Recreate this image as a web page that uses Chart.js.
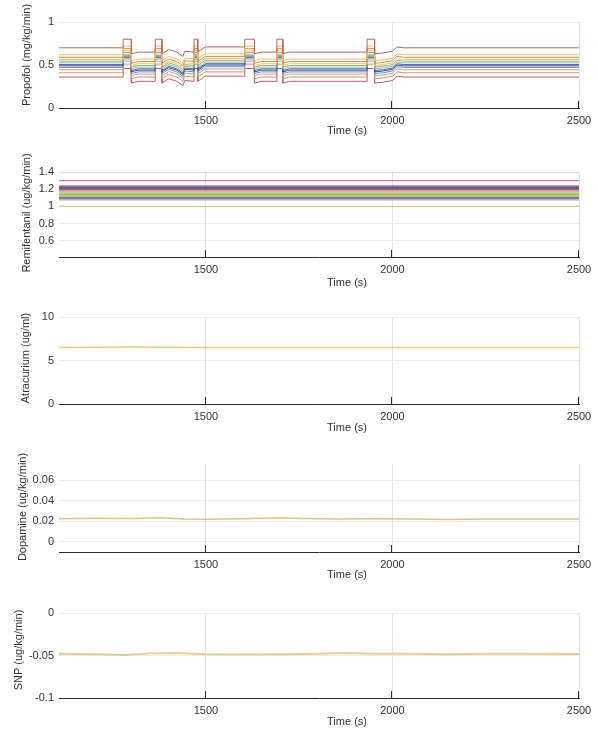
<!DOCTYPE html>
<html lang="en">
  <head>
    <meta charset="UTF-8" />
    <title>Drug infusion rates</title>
    <style>
      html, body { margin: 0; padding: 0; background: #fff; }
      #wrap { position: relative; width: 598px; height: 738px; }
      canvas { position: absolute; left: 0; }
    </style>
  </head>
  <body>
    <div id="wrap">
      <canvas id="propofolChart" width="598" height="140" style="top:0px"></canvas>
      <canvas id="remiChart" width="598" height="150" style="top:140px"></canvas>
      <canvas id="atraChart" width="598" height="147" style="top:290px"></canvas>
      <canvas id="dopaChart" width="598" height="148" style="top:437px"></canvas>
      <canvas id="snpChart" width="598" height="153" style="top:585px"></canvas>
    </div>

    <script src="https://cdn.jsdelivr.net/npm/chart.js@4.4.1/dist/chart.umd.min.js"></script>
    <script>
      // ---- data ----
      const timeTicks = [1500, 2000, 2500];

      const propofolTime = [1106, 1278, 1278, 1300, 1300, 1318, 1364, 1364, 1382, 1382, 1400, 1422, 1438, 1443, 1468, 1468, 1478, 1478, 1498, 1604, 1604, 1630, 1630, 1648, 1690, 1690, 1706, 1706, 1724, 1932, 1932, 1952, 1952, 1975, 2000, 2012, 2030, 2500];
      const propofolRates = [
        [.70,.70,.80,.80,.63,.65,.65,.80,.80,.63,.68,.65,.60,.66,.65,.80,.80,.65,.71,.71,.80,.80,.63,.65,.65,.80,.80,.63,.65,.65,.80,.80,.63,.64,.66,.71,.70,.70],
        [.62,.62,.72,.72,.55,.57,.57,.72,.72,.55,.60,.57,.52,.58,.57,.72,.72,.57,.63,.63,.72,.72,.55,.57,.57,.72,.72,.55,.57,.57,.72,.72,.55,.56,.58,.63,.62,.62],
        [.59,.59,.69,.69,.52,.54,.54,.69,.69,.52,.57,.54,.49,.55,.54,.69,.69,.54,.60,.60,.69,.69,.52,.54,.54,.69,.69,.52,.54,.54,.69,.69,.52,.53,.55,.60,.59,.59],
        [.565,.565,.665,.665,.495,.515,.515,.665,.665,.495,.545,.515,.465,.525,.515,.665,.665,.515,.575,.575,.665,.665,.495,.515,.515,.665,.665,.495,.515,.515,.665,.665,.495,.505,.525,.575,.565,.565],
        [.545,.545,.645,.645,.475,.495,.495,.645,.645,.475,.525,.495,.445,.505,.495,.645,.645,.495,.555,.555,.645,.645,.475,.495,.495,.645,.645,.475,.495,.495,.645,.645,.475,.485,.505,.555,.545,.545],
        [.525,.525,.625,.625,.455,.475,.475,.625,.625,.455,.505,.475,.425,.485,.475,.625,.625,.475,.535,.535,.625,.625,.455,.475,.475,.625,.625,.455,.475,.475,.625,.625,.455,.465,.485,.535,.525,.525],
        [.505,.505,.605,.605,.435,.455,.455,.605,.605,.435,.485,.455,.405,.465,.455,.605,.605,.455,.515,.515,.605,.605,.435,.455,.455,.605,.605,.435,.455,.455,.605,.605,.435,.445,.465,.515,.505,.505],
        [.49,.49,.59,.59,.42,.44,.44,.59,.59,.42,.47,.44,.39,.45,.44,.59,.59,.44,.50,.50,.59,.59,.42,.44,.44,.59,.59,.42,.44,.44,.59,.59,.42,.43,.45,.50,.49,.49],
        [.47,.47,.57,.57,.40,.42,.42,.57,.57,.40,.45,.42,.37,.43,.42,.57,.57,.42,.48,.48,.57,.57,.40,.42,.42,.57,.57,.40,.42,.42,.57,.57,.40,.41,.43,.48,.47,.47],
        [.445,.445,.545,.545,.375,.395,.395,.545,.545,.375,.425,.395,.345,.405,.395,.545,.545,.395,.455,.455,.545,.545,.375,.395,.395,.545,.545,.375,.395,.395,.545,.545,.375,.385,.405,.455,.445,.445],
        [.41,.41,.51,.51,.34,.36,.36,.51,.51,.34,.39,.36,.31,.37,.36,.51,.51,.36,.42,.42,.51,.51,.34,.36,.36,.51,.51,.34,.36,.36,.51,.51,.34,.35,.37,.42,.41,.41],
        [.36,.36,.46,.46,.29,.31,.31,.46,.46,.29,.34,.31,.26,.32,.31,.46,.46,.31,.37,.37,.46,.46,.29,.31,.31,.46,.46,.29,.31,.31,.46,.46,.29,.30,.32,.37,.36,.36]
      ];
      const propofolColors = ["#c0625c", "#ebc35a", "#e2874f", "#eec86a", "#93ba5e", "#72c4e8", "#7d4b92", "#2b4fa0", "#4f9fc2", "#e39b6c", "#d88c84", "#b9605a"];
      const propofolTicks = [0, 0.5, 1];

      const remiTime = [1106, 2500];
      const remiLevels = [1.398, 1.30, 1.235, 1.222, 1.208, 1.195, 1.18, 1.165, 1.15, 1.135, 1.12, 1.105, 1.09, 1.075, 1.0];
      const remiColors = ["#dedcb4", "#c77ab9", "#6b4c8c", "#4a5fa6", "#a4485a", "#8a67a8", "#e3905a", "#7ec8e6", "#e9c24a", "#9cbc55", "#cdb54a", "#6b78ad", "#8c7caa", "#a6a8c4", "#ecca66"];
      const remiTicks = [0.6, 0.8, 1, 1.2, 1.4];

      const atraTime = [1106, 1300, 1500, 1700, 1900, 2100, 2300, 2500];
      const atraRate = [6.5, 6.55, 6.5, 6.5, 6.48, 6.5, 6.5, 6.48];
      const atraTicks = [0, 5, 10];

      const dopaTime = [1106, 1200, 1300, 1380, 1440, 1500, 1600, 1700, 1760, 1850, 1950, 2050, 2150, 2250, 2350, 2500];
      const dopaRate = [0.0225, 0.023, 0.0228, 0.0235, 0.0222, 0.022, 0.0225, 0.0235, 0.0228, 0.0222, 0.0225, 0.0222, 0.0218, 0.0222, 0.0222, 0.0222];
      const dopaTicks = [0, 0.02, 0.04, 0.06];

      const snpTime = [1106, 1200, 1280, 1350, 1420, 1500, 1600, 1700, 1800, 1880, 1950, 2050, 2150, 2250, 2350, 2500];
      const snpRate = [-0.048, -0.0485, -0.0495, -0.0475, -0.047, -0.0485, -0.0488, -0.0485, -0.048, -0.0472, -0.048, -0.0478, -0.0485, -0.048, -0.0478, -0.0482];
      const snpTicks = [-0.1, -0.05, 0];

      const FONT = '"Liberation Sans", Arial, Helvetica, sans-serif';

      // inward x ticks + axis titles, drawn like matlab does
      const axisDecor = {
        id: "axisDecor",
        afterDraw(chart, args, opts) {
          const ctx = chart.ctx;
          const area = chart.chartArea;
          const xs = chart.scales.x;
          ctx.save();
          ctx.strokeStyle = "#2e2e2e";
          ctx.lineWidth = 1;
          xs.ticks.forEach((t) => {
            const px = Math.round(xs.getPixelForValue(t.value)) - 0.5;
            ctx.beginPath();
            ctx.moveTo(px, area.bottom);
            ctx.lineTo(px, area.bottom - 7);
            ctx.stroke();
          });
          ctx.fillStyle = "#333";
          ctx.font = "11px " + FONT;
          ctx.textAlign = "center";
          ctx.textBaseline = "middle";
          ctx.fillText("Time (s)", (area.left + area.right) / 2 + 28, area.bottom + opts.xGap);
          ctx.translate(opts.yX, opts.yY);
          ctx.rotate(-Math.PI / 2);
          ctx.fillText(opts.yTitle, 0, 0);
          ctx.restore();
        },
      };

      function makePanel(id, datasets, p) {
        return new Chart(id, {
          type: "line",
          data: { datasets: datasets },
          plugins: [axisDecor],
          options: {
            responsive: false,
            animation: false,
            layout: { padding: { top: p.padTop, right: 19, bottom: 0, left: 0 } },
            elements: { point: { radius: 0 }, line: { tension: 0 } },
            plugins: {
              legend: { display: false },
              tooltip: { enabled: false },
              axisDecor: { yTitle: p.yTitle, yX: p.yX, yY: p.yY, xGap: p.xGap },
            },
            scales: {
              x: {
                type: "linear",
                min: 1106,
                max: 2500,
                afterBuildTicks: (s) => { s.ticks = timeTicks.map((v) => ({ value: v })); },
                afterFit: (s) => { s.height = p.axisH; },
                grid: { color: "#e4e4e4", drawTicks: false },
                border: { color: "#2e2e2e", width: 1 },
                ticks: { padding: 6, color: "#333", font: { family: FONT, size: 11 }, callback: (v) => String(v) },
              },
              y: {
                min: p.yMin,
                max: p.yMax,
                afterBuildTicks: (s) => { s.ticks = p.yTicks.map((v) => ({ value: v })); },
                afterFit: (s) => { s.width = 59; },
                grid: { color: "#ebebeb", drawTicks: false },
                border: { display: false },
                ticks: { padding: 5, color: "#333", font: { family: FONT, size: 11 }, callback: (v) => String(v) },
              },
            },
          },
        });
      }

      function series(times, values, color, width) {
        return {
          data: times.map((t, i) => ({ x: t, y: values[i] })),
          borderColor: color,
          borderWidth: width,
          fill: false,
        };
      }

      makePanel(
        "propofolChart",
        propofolRates.map((r, i) => series(propofolTime, r, propofolColors[i], 1)),
        { padTop: 22, axisH: 32, yMin: 0, yMax: 1, yTicks: propofolTicks, yTitle: "Propofol (mg/kg/min)", yX: 27, yY: 55, xGap: 23 }
      );

      makePanel(
        "remiChart",
        remiLevels.map((lv, i) => series(remiTime, remiTime.map(() => lv), remiColors[i], 1.3)),
        { padTop: 32, axisH: 33, yMin: 0.41, yMax: 1.4, yTicks: remiTicks, yTitle: "Remifentanil (ug/kg/min)", yX: 27, yY: 73, xGap: 26 }
      );

      makePanel(
        "atraChart",
        [series(atraTime, atraRate, "#e6cf7a", 1.5)],
        { padTop: 27, axisH: 33, yMin: 0, yMax: 10, yTicks: atraTicks, yTitle: "Atracurium (ug/ml)", yX: 26, yY: 68, xGap: 24 }
      );

      makePanel(
        "dopaChart",
        [series(dopaTime, dopaRate, "#e5c372", 1.6)],
        { padTop: 27, axisH: 33, yMin: -0.01, yMax: 0.076, yTicks: dopaTicks, yTitle: "Dopamine (ug/kg/min)", yX: 23, yY: 70, xGap: 23 }
      );

      makePanel(
        "snpChart",
        [series(snpTime, snpRate, "#e3d08c", 2)],
        { padTop: 28, axisH: 40, yMin: -0.1, yMax: 0, yTicks: snpTicks, yTitle: "SNP (ug/kg/min)", yX: 19, yY: 65, xGap: 24 }
      );
    </script>
  </body>
</html>
